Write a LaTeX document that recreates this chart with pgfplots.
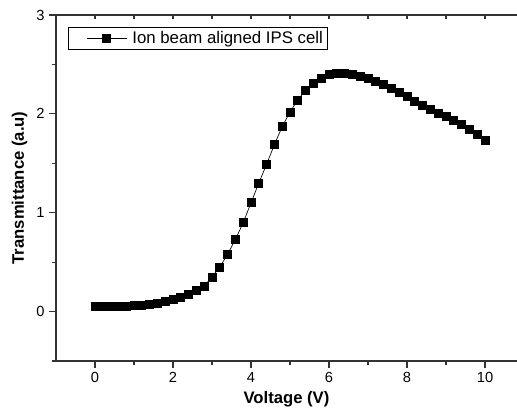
\documentclass[border=0pt]{standalone}
\usepackage{pgfplots}
\pgfplotsset{compat=1.18}
\usepackage{fontspec}
\setmainfont{Liberation Sans}

% transmittance vs voltage, 0.2 V steps
\pgfplotstableread{
v t
0.0 0.050
0.2 0.050
0.4 0.050
0.6 0.052
0.8 0.055
1.0 0.060
1.2 0.065
1.4 0.075
1.6 0.088
1.8 0.100
2.0 0.120
2.2 0.140
2.4 0.170
2.6 0.210
2.8 0.260
3.0 0.350
3.2 0.450
3.4 0.580
3.6 0.730
3.8 0.900
4.0 1.100
4.2 1.300
4.4 1.490
4.6 1.690
4.8 1.870
5.0 2.020
5.2 2.140
5.4 2.240
5.6 2.310
5.8 2.360
6.0 2.400
6.2 2.410
6.4 2.410
6.6 2.400
6.8 2.380
7.0 2.360
7.2 2.330
7.4 2.300
7.6 2.260
7.8 2.220
8.0 2.180
8.2 2.130
8.4 2.090
8.6 2.050
8.8 2.010
9.0 1.970
9.2 1.930
9.4 1.890
9.6 1.840
9.8 1.790
10.0 1.730
}\datatab

\begin{document}
\begin{tikzpicture}
\pgfplotsset{
  base/.style={
    scale only axis, width=345.75pt, height=259.5pt,
    xmin=-1, xmax=10.82, ymin=-0.5, ymax=3,
    axis line style={line width=0.9pt,black!80},
    every tick/.style={line width=0.9pt,black!80},
    /pgf/number format/assume math mode=true,
    tick label style={font=\fontsize{11}{13}\selectfont},
  },
}
% top line, ticks pointing in
\begin{axis}[base, axis x line*=top, axis y line=none,
  xtick={0,1,...,10}, xticklabels={}, tick align=inside,
  major tick length=3pt]
\end{axis}
\begin{axis}[base, name=main, axis x line*=bottom, axis y line*=left,
  tick align=outside, major tick length=5pt, minor tick length=3pt,
  xtick={0,2,...,10}, minor xtick={1,3,5,7,9},
  ytick={0,1,2,3}, minor ytick={-0.5,0.5,1.5,2.5},
  xlabel={\bfseries Voltage (V)}, ylabel={\bfseries Transmittance (a.u)},
  label style={font=\fontsize{12.5}{14}\selectfont},
  xlabel style={at={(axis description cs:0.5,0)},anchor=center,yshift=-29pt},
  ylabel style={at={(axis description cs:-0.079,0.5)},anchor=center},
  legend style={at={(axis description cs:0.026,0.965)}, anchor=north west,
    draw=black, line width=0.6pt, inner xsep=1.5pt, inner ysep=1pt,
    font=\fontsize{12.6}{14}\selectfont},
  legend image code/.code={
    \path (0pt,0pt);
    \draw[mark repeat=2,mark phase=2,#1] plot coordinates {(12pt,0pt) (27pt,0pt) (42pt,0pt)};
    \path (44pt,0pt);
  },
]
\addplot[black, line width=0.5pt, mark=square*, mark size=3pt,
  mark options={solid,fill=black}] table[x=v,y=t] {\datatab};
\addlegendentry{Ion beam aligned IPS cell}
\end{axis}
\pgfresetboundingbox
\path[use as bounding box] ([shift={(-42pt,-39.75pt)}]main.south west) rectangle ([shift={(0pt,11.25pt)}]main.north east);
\end{tikzpicture}
\end{document}
